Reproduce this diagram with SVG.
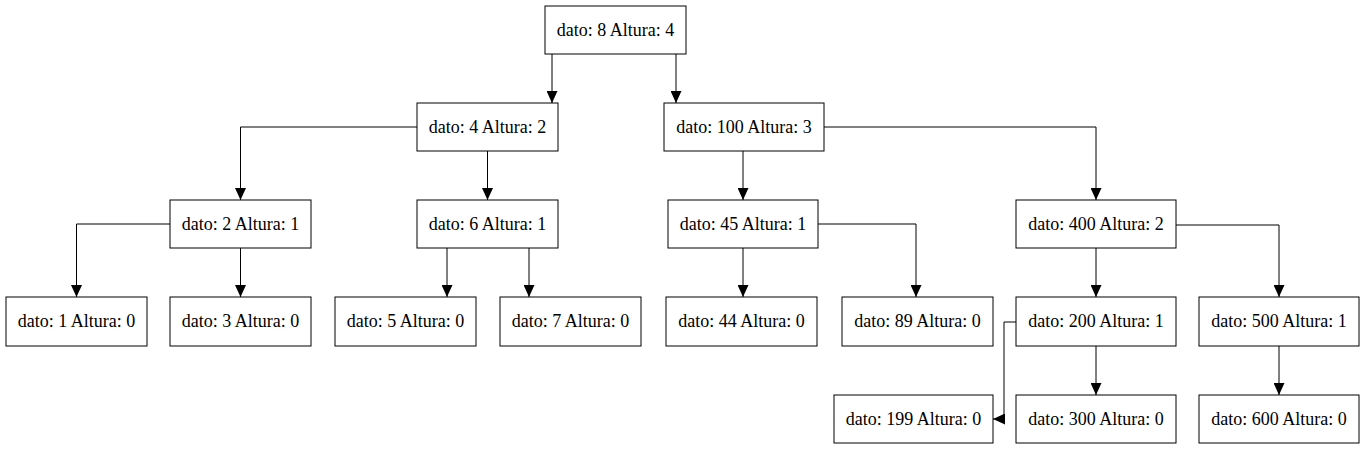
<svg xmlns="http://www.w3.org/2000/svg" width="1363" height="449" viewBox="0 0 1363 449">
<style>
.n rect{fill:#fff;stroke:#000;stroke-width:1}
.n text{font-size:18px;text-anchor:middle;fill:#000}
.e path{fill:none;stroke:#000;stroke-width:1}
</style>
<defs>
<marker id="ah" markerUnits="userSpaceOnUse" markerWidth="12" markerHeight="11" refX="12" refY="5.5" orient="auto">
<path d="M0,0 L12,5.5 L0,11 z" fill="#000"/>
</marker>
</defs>
<rect width="1363" height="449" fill="#fff"/>
<g id="edges" class="e">
<path d="M552,54 V103" marker-end="url(#ah)"/>
<path d="M676,54 V103" marker-end="url(#ah)"/>
<path d="M417,127 H240.5 V200" marker-end="url(#ah)"/>
<path d="M487.5,151 V200" marker-end="url(#ah)"/>
<path d="M743,151 V200" marker-end="url(#ah)"/>
<path d="M824,127 H1096 V200" marker-end="url(#ah)"/>
<path d="M170,224 H76.5 V297" marker-end="url(#ah)"/>
<path d="M240.5,248 V297" marker-end="url(#ah)"/>
<path d="M447,248 V297" marker-end="url(#ah)"/>
<path d="M529,248 V297" marker-end="url(#ah)"/>
<path d="M743,248 V297" marker-end="url(#ah)"/>
<path d="M818,224 H916 V297" marker-end="url(#ah)"/>
<path d="M1096,248 V297" marker-end="url(#ah)"/>
<path d="M1176,225 H1279 V297" marker-end="url(#ah)"/>
<path d="M1016,322 H1004 V419 H993" marker-end="url(#ah)"/>
<path d="M1096,346 V395" marker-end="url(#ah)"/>
<path d="M1279,346 V395" marker-end="url(#ah)"/>
</g>
<g font-family="Liberation Serif, serif">
<g id="n8" class="n"><rect x="545" y="6" width="141" height="48"/><text x="615.5" y="36">dato: 8 Altura: 4</text></g>
<g id="n4" class="n"><rect x="417" y="103" width="141" height="48"/><text x="487.5" y="133">dato: 4 Altura: 2</text></g>
<g id="n100" class="n"><rect x="664" y="103" width="160" height="48"/><text x="744" y="133">dato: 100 Altura: 3</text></g>
<g id="n2" class="n"><rect x="170" y="200" width="141" height="48"/><text x="240.5" y="230">dato: 2 Altura: 1</text></g>
<g id="n6" class="n"><rect x="417" y="200" width="141" height="48"/><text x="487.5" y="230">dato: 6 Altura: 1</text></g>
<g id="n45" class="n"><rect x="668" y="200" width="150" height="48"/><text x="743" y="230">dato: 45 Altura: 1</text></g>
<g id="n400" class="n"><rect x="1016" y="200" width="160" height="48"/><text x="1096" y="230">dato: 400 Altura: 2</text></g>
<g id="n1" class="n"><rect x="6" y="297" width="141" height="49"/><text x="76.5" y="327">dato: 1 Altura: 0</text></g>
<g id="n3" class="n"><rect x="170" y="297" width="141" height="49"/><text x="240.5" y="327">dato: 3 Altura: 0</text></g>
<g id="n5" class="n"><rect x="335" y="297" width="141" height="49"/><text x="405.5" y="327">dato: 5 Altura: 0</text></g>
<g id="n7" class="n"><rect x="500" y="297" width="141" height="49"/><text x="570.5" y="327">dato: 7 Altura: 0</text></g>
<g id="n44" class="n"><rect x="666" y="297" width="151" height="49"/><text x="741.5" y="327">dato: 44 Altura: 0</text></g>
<g id="n89" class="n"><rect x="842" y="297" width="151" height="49"/><text x="917.5" y="327">dato: 89 Altura: 0</text></g>
<g id="n200" class="n"><rect x="1016" y="297" width="160" height="49"/><text x="1096" y="327">dato: 200 Altura: 1</text></g>
<g id="n500" class="n"><rect x="1199" y="297" width="160" height="49"/><text x="1279" y="327">dato: 500 Altura: 1</text></g>
<g id="n199" class="n"><rect x="834" y="395" width="159" height="48"/><text x="913.5" y="425">dato: 199 Altura: 0</text></g>
<g id="n300" class="n"><rect x="1016" y="395" width="160" height="48"/><text x="1096" y="425">dato: 300 Altura: 0</text></g>
<g id="n600" class="n"><rect x="1199" y="395" width="160" height="48"/><text x="1279" y="425">dato: 600 Altura: 0</text></g>
</g>
</svg>
